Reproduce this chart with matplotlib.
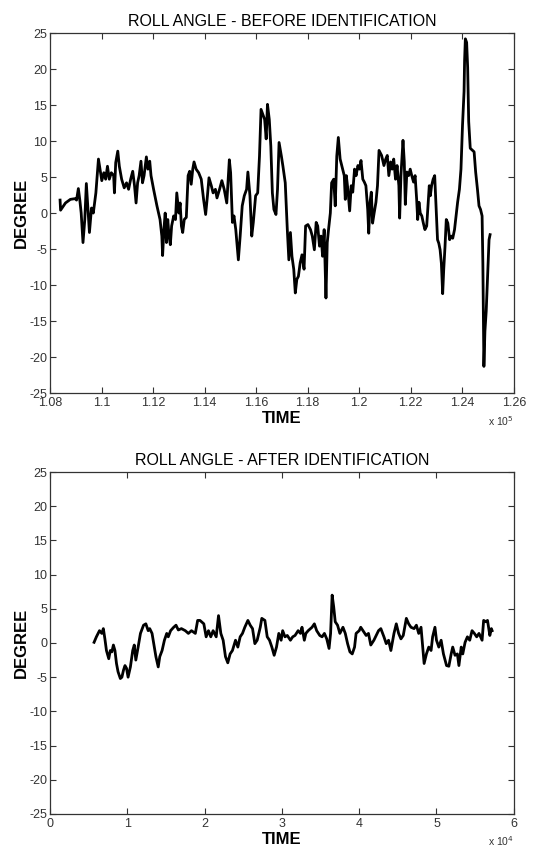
import numpy as np
import matplotlib.pyplot as plt

plt.rcParams['font.family'] = ['Liberation Sans', 'DejaVu Sans']

# roll angle before identification, time in units of 1e5
t_before = [1.0839, 1.0841, 1.0860, 1.0879, 1.0897, 1.0903, 1.0910, 1.0916, 1.0921, 1.0928,
            1.0935, 1.0941, 1.0947, 1.0953, 1.0961, 1.0968, 1.0978, 1.0988, 1.0994, 1.1001,
            1.1009, 1.1016, 1.1023, 1.1030, 1.1038, 1.1047, 1.1050, 1.1055, 1.1063, 1.1069,
            1.1078, 1.1088, 1.1097, 1.1105, 1.1113, 1.1121, 1.1128, 1.1134, 1.1140, 1.1146,
            1.1153, 1.1159, 1.1165, 1.1174, 1.1180, 1.1187, 1.1192, 1.1202, 1.1215, 1.1227,
            1.1234, 1.1237, 1.1242, 1.1247, 1.1252, 1.1257, 1.1262, 1.1267, 1.1272, 1.1280,
            1.1287, 1.1292, 1.1300, 1.1305, 1.1310, 1.1315, 1.1321, 1.1329, 1.1336, 1.1342,
            1.1348, 1.1354, 1.1359, 1.1367, 1.1377, 1.1387,
            1.1396, 1.1404, 1.1411, 1.1417, 1.1426, 1.1433, 1.1442, 1.1448, 1.1458, 1.1467,
            1.1476, 1.1486, 1.1496, 1.1501, 1.1508, 1.1514, 1.1521, 1.1531, 1.1538, 1.1546,
            1.1554, 1.1563, 1.1568, 1.1576, 1.1583, 1.1589, 1.1598, 1.1606, 1.1613, 1.1619,
            1.1626, 1.1633, 1.1639, 1.1644, 1.1651, 1.1657, 1.1663, 1.1669, 1.1677, 1.1683,
            1.1689, 1.1698, 1.1704, 1.1713, 1.1721, 1.1727, 1.1733, 1.1739, 1.1746, 1.1752,
            1.1758, 1.1764, 1.1771, 1.1778, 1.1786, 1.1792, 1.1801, 1.1811, 1.1818, 1.1826,
            1.1833, 1.1839, 1.1846, 1.1852, 1.1858, 1.1864, 1.1871, 1.1876, 1.1881, 1.1888,
            1.1893, 1.1901, 1.1907, 1.1913, 1.1919, 1.1926, 1.1933, 1.1942, 1.1946,
            1.1950, 1.1956, 1.1963, 1.1969, 1.1975, 1.1982, 1.1988, 1.1995, 1.2001, 1.2007,
            1.2014, 1.2020, 1.2026, 1.2033, 1.2037, 1.2042, 1.2047, 1.2052, 1.2058, 1.2065,
            1.2071, 1.2077, 1.2087, 1.2096, 1.2103, 1.2109, 1.2115, 1.2122, 1.2128, 1.2134,
            1.2141, 1.2147, 1.2154, 1.2157, 1.2162, 1.2170, 1.2175, 1.2179, 1.2185, 1.2192,
            1.2198, 1.2204, 1.2211, 1.2217, 1.2223, 1.2227, 1.2232, 1.2237, 1.2243, 1.2249,
            1.2255, 1.2262, 1.2268, 1.2272, 1.2276, 1.2281, 1.2287, 1.2293, 1.2297, 1.2304,
            1.2309, 1.2314, 1.2319, 1.2324, 1.2328, 1.2333, 1.2338, 1.2344, 1.2351, 1.2357,
            1.2363, 1.2370, 1.2376, 1.2382, 1.2389, 1.2395, 1.2401, 1.2407, 1.2409, 1.2412,
            1.2417, 1.2421, 1.2425, 1.2431, 1.2440, 1.2446, 1.2452, 1.2459, 1.2465, 1.2471,
            1.2477, 1.2480, 1.2484, 1.2488, 1.2493, 1.2499, 1.2504, 1.2508]
roll_before = [1.8, 0.4, 1.4, 1.9, 2.0, 1.8, 3.4, 1.7, 0.0, -4.1,
               -0.9, 4.1, 0.7, -2.7, 0.7, 0.0, 2.8, 7.5, 6.1, 4.5,
               5.6, 4.7, 6.5, 4.7, 5.6, 5.2, 2.8, 7.0, 8.6, 6.5,
               4.7, 3.5, 4.2, 3.3, 4.7, 5.8, 3.8, 1.4, 4.2, 5.2,
               7.2, 4.2, 5.2, 7.8, 6.1, 7.2, 5.2, 3.3, 1.0, -0.9,
               -3.2, -5.9, -2.3, 0.0, -4.1, -0.9, -3.2, -4.4, -1.8, -0.4,
               -0.9, 2.8, 0.0, 1.4, -1.8, -2.7, -0.9, -0.6, 5.2, 5.8,
               4.0, 6.1, 7.1, 6.1, 5.6, 4.7,
               1.9, -0.2, 2.4, 4.9, 3.8, 2.8, 3.3, 2.1, 3.3, 4.5,
               3.3, 1.4, 7.4, 5.6, -1.3, -0.4, -2.3, -6.5, -3.2, 1.0,
               2.4, 3.3, 5.7, 2.4, -3.2, -1.3, 2.4, 2.8, 7.9, 14.4,
               13.7, 13.0, 10.3, 15.1, 13.0, 9.3, 2.8, 0.5, -0.2, 3.3,
               9.8, 7.9, 6.5, 4.2, -2.3, -6.5, -2.7, -6.0, -7.8, -11.1,
               -9.2, -8.8, -6.9, -5.8, -7.8, -1.8, -1.6, -2.3, -3.2, -5.1,
               -1.3, -1.8, -4.6, -3.2, -6.0, -2.3, -11.8, -4.1, -2.3, 0.0,
               4.2, 4.7, 1.0, 7.9, 10.5, 7.5, 6.5, 5.2, 1.9,
               5.2, 3.3, 0.3, 3.8, 2.9, 6.1, 5.2, 6.6, 6.1, 7.3,
               4.7, 4.3, 3.8, 0.5, -2.8, 1.5, 2.9, -1.4, 0.0, 1.5,
               3.8, 8.7, 8.0, 6.6, 7.5, 8.0, 5.2, 7.1, 6.1, 7.5,
               4.7, 6.6, 3.8, -0.7, 5.2, 10.1, 7.1, 1.2, 5.7, 5.2,
               6.1, 5.2, 4.3, 5.2, 1.9, -0.9, 1.5, 0.0, -0.4, -1.4,
               -2.3, -1.8, 1.5, 3.8, 2.4, 3.8, 4.7, 5.2, 1.9, -3.7,
               -4.2, -5.1, -7.0, -11.2, -7.9, -4.7, -0.9, -1.4, -3.7, -3.2,
               -3.5, -2.3, -0.4, 1.5, 3.3, 6.1, 12.2, 16.9, 21.1, 24.2,
               23.7, 20.2, 12.7, 9.0, 8.7, 8.5, 5.7, 3.3, 1.0, 0.5,
               -0.4, -7.0, -21.3, -16.4, -13.6, -8.0, -3.7, -3.0]

# roll angle after identification, time in units of 1e4
t_after = [0.57, 0.60, 0.64, 0.67, 0.69, 0.71, 0.73, 0.76, 0.78, 0.80,
           0.82, 0.84, 0.86, 0.88, 0.91, 0.93, 0.95, 0.97, 0.99, 1.01,
           1.04, 1.07, 1.09, 1.11, 1.14, 1.17, 1.21, 1.24, 1.27, 1.29,
           1.32, 1.35, 1.37, 1.40, 1.42, 1.45, 1.48, 1.51, 1.53, 1.56,
           1.60, 1.63, 1.66, 1.70, 1.75, 1.79, 1.83, 1.88, 1.91, 1.94,
           1.99, 2.02, 2.05, 2.08, 2.11, 2.15, 2.18, 2.21, 2.24, 2.27,
           2.30, 2.33, 2.36, 2.40, 2.43, 2.46, 2.49, 2.52, 2.56, 2.59,
           2.62, 2.65, 2.68, 2.72, 2.74, 2.78, 2.81, 2.84, 2.87, 2.90,
           2.93, 2.96, 2.99, 3.01, 3.04, 3.07, 3.11, 3.14, 3.17, 3.21,
           3.24, 3.26, 3.29, 3.31, 3.34, 3.39, 3.42, 3.45, 3.49, 3.52,
           3.55, 3.58, 3.61, 3.63, 3.65, 3.67, 3.69, 3.72, 3.75, 3.79,
           3.82, 3.85, 3.88, 3.91, 3.94, 3.96, 4.00, 4.02, 4.06, 4.09,
           4.12, 4.15, 4.19, 4.22, 4.25, 4.28, 4.32, 4.35, 4.38, 4.41,
           4.45, 4.48, 4.51, 4.54, 4.57, 4.61, 4.64, 4.67, 4.71, 4.74,
           4.77, 4.80, 4.83, 4.84, 4.87, 4.90, 4.93, 4.95, 4.98, 5.00,
           5.03, 5.06, 5.09, 5.13, 5.16, 5.19, 5.21, 5.24, 5.27, 5.29,
           5.32, 5.34, 5.37, 5.40, 5.43, 5.46, 5.49, 5.52, 5.55, 5.59,
           5.61, 5.64, 5.66, 5.69, 5.71, 5.72]
roll_after = [0.1, 0.9, 1.8, 1.4, 2.1, 0.6, -1.1, -2.3, -1.1, -1.3,
              -0.3, -1.1, -3.0, -4.2, -5.2, -5.0, -4.0, -3.3, -3.7, -5.0,
              -3.5, -1.1, -0.3, -2.5, -0.6, 1.4, 2.6, 2.8, 1.8, 2.1,
              1.4, -0.6, -2.0, -3.5, -2.0, -1.1, 0.4, 1.4, 0.9, 1.8,
              2.3, 2.6, 1.9, 2.1, 1.8, 1.4, 1.8, 1.4, 3.3, 3.3,
              2.8, 0.9, 1.8, 0.9, 1.8, 0.9, 4.0, 1.4, 0.4, -2.0,
              -2.9, -1.6, -1.1, 0.4, -0.6, 0.9, 1.4, 2.3, 3.3, 2.6,
              2.1, -0.1, 0.4, 2.3, 3.6, 3.3, 0.9, 0.4, -0.6, -1.8,
              -0.6, 1.4, 0.4, 1.8, 0.9, 1.1, 0.4, 0.9, 1.1, 1.8,
              1.4, 2.3, 0.4, 1.4, 1.8, 2.3, 2.8, 1.8, 1.1, 0.9,
              1.4, 0.6, -0.8, 1.4, 7.0, 5.3, 3.1, 2.6, 1.4, 2.3,
              1.4, -0.1, -1.3, -1.6, -0.6, 1.4, 1.8, 2.3, 1.6, 1.1,
              1.4, -0.3, 0.4, 1.1, 1.8, 2.1, 0.9, -0.1, 0.4, -1.1,
              1.4, 2.8, 1.4, 0.6, 1.1, 3.6, 2.8, 2.3, 2.1, 2.6,
              1.4, 2.3, -1.6, -3.0, -1.6, -0.6, -1.1, 0.9, 2.3, 0.4,
              -0.6, 0.4, -1.6, -3.3, -3.4, -1.6, -0.6, -1.8, -1.6, -3.3,
              -0.6, -1.6, 0.1, 0.9, 0.4, 1.8, 1.4, 0.9, 1.4, 0.4,
              3.3, 3.1, 3.3, 1.1, 2.1, 1.8]

before_ticks = [1.08, 1.1, 1.12, 1.14, 1.16, 1.18, 1.2, 1.22, 1.24, 1.26]
after_ticks = [0, 1, 2, 3, 4, 5, 6]
y_ticks = [-25, -20, -15, -10, -5, 0, 5, 10, 15, 20, 25]

fig = plt.figure(figsize=(5.46, 8.5), dpi=100)
ax1 = fig.add_axes([0.0916, 0.5376, 0.8494, 0.4235])
ax2 = fig.add_axes([0.0916, 0.0424, 0.8494, 0.4023])


def style(ax, xticks, title, expo):
    ax.set_ylim(-25, 25)
    ax.set_xlim(xticks[0], xticks[-1])
    ax.set_xticks(xticks)
    ax.set_xticklabels(['%g' % v for v in xticks])
    ax.set_yticks(y_ticks)
    ax.set_yticklabels(['%g' % v for v in y_ticks])
    ax.tick_params(direction='in', top=True, right=True, length=4, width=0.8,
                   labelsize=9, colors='#333333', pad=2)
    ax.tick_params(axis='x', pad=3)
    for s in ax.spines.values():
        s.set_color('#333333')
        s.set_linewidth(0.9)
    ax.set_title(title, fontsize=11.5, pad=5)
    ax.set_xlabel('TIME', fontsize=12, fontweight='bold', labelpad=1)
    ax.set_ylabel('DEGREE', fontsize=12, fontweight='bold', labelpad=0)
    ax.text(1.0, -0.06, r'x 10$^{%d}$' % expo, transform=ax.transAxes,
            ha='right', va='top', fontsize=7.5, color='#333333')


ax1.plot(t_before, roll_before, color='black', linewidth=2.0)
style(ax1, before_ticks, 'ROLL ANGLE - BEFORE IDENTIFICATION', 5)

ax2.plot(t_after, roll_after, color='black', linewidth=2.0)
style(ax2, after_ticks, 'ROLL ANGLE - AFTER IDENTIFICATION', 4)

fig.savefig('out.png', dpi=100)
